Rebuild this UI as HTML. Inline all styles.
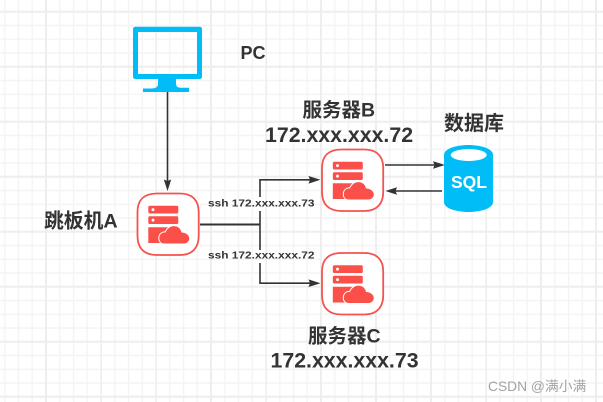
<!DOCTYPE html>
<html><head><meta charset="utf-8">
<style>
html,body{margin:0;padding:0;background:#fff;width:603px;height:402px;overflow:hidden}
svg{display:block}
text{font-family:"Liberation Sans","Noto Sans CJK SC",sans-serif;font-weight:bold;fill:#333}
</style></head>
<body>
<svg width="603" height="402" viewBox="0 0 603 402" xmlns="http://www.w3.org/2000/svg">
<defs>
<pattern id="g" x="3.75" y="-2.95" width="13.75" height="13.75" patternUnits="userSpaceOnUse">
<path d="M1 0V13.75M0 1H13.75" stroke="#f4f4f4" stroke-width="1.4" fill="none"/>
</pattern>
<pattern id="G" x="45" y="10.7" width="55" height="55" patternUnits="userSpaceOnUse">
<path d="M1 0V55M0 1H55" stroke="#eeeeee" stroke-width="1.9" fill="none"/>
</pattern>
<g id="srv">
<path d="M157 193.500H180C192 193.500 198.700 200 198.700 212V236C198.700 248 192 255 180 255H157C144 255 137.500 248 137.500 236V212C137.500 200 144 193.500 157 193.500Z" fill="#fff" stroke="#f4534e" stroke-width="1.8"/>
<rect x="148.300" y="205.700" width="30" height="7.800" rx="1.500" fill="#fb4f4a"/>
<rect x="148.300" y="216.200" width="30" height="7.800" rx="1.500" fill="#fb4f4a"/>
<circle cx="153" cy="209.600" r="1.500" fill="#fff"/>
<circle cx="153" cy="220.100" r="1.500" fill="#fff"/>
<path d="M148.300 227.300H172V243H148.300Z" fill="#fb4f4a"/>
<path d="M164.500 243.500C160 243.500 158.700 239.500 159.500 236.500C160.300 233.500 163 232 165.500 232.500C167.500 227.500 172 225 176.500 226.500C179.500 227.500 181 230 181.500 232.500C186 232.500 189.300 235.500 189.300 238.500C189.300 241.500 186.500 243.500 184 243.500Z" fill="#fb4f4a" stroke="#fff" stroke-width="2" paint-order="stroke"/>
</g>
</defs>
<rect width="603" height="402" fill="#fff"/>
<rect width="603" height="402" fill="url(#g)"/>
<rect width="603" height="402" fill="url(#G)"/>

<!-- PC monitor -->
<path fill-rule="evenodd" d="M135.500 26.700H199.500Q202 26.700 202 29.200V76.500Q202 79 199.500 79H176V84Q176 87.700 181 87.700H189V92H143V88.500H151Q158 88.500 158 84V79H135.500Q133 79 133 76.500V29.200Q133 26.700 135.500 26.700ZM138 32V74H197V32Z" fill="#00bdf8"/>

<!-- connectors -->
<g stroke="#333" stroke-width="1.600" fill="none">
<path d="M167.500 92V182"/>
<path d="M200 224.500H260.500" stroke-width="2"/>
<path d="M260 197V179.800H312"/>
<path d="M260 211V250M260 263V283.200H312"/>
<path d="M385 165H436"/>
<path d="M442 191H393"/>
</g>
<g fill="#333">
<path d="M167.500 191L163.800 179.500L167.500 181L171.200 179.500Z"/>
<path d="M320.500 179.800L308.500 176L310 179.800L308.500 183.600Z"/>
<path d="M320.500 283.200L308.500 279.400L310 283.200L308.500 287Z"/>
<path d="M445 165L433 161.200L434.500 165L433 168.800Z"/>
<path d="M385.500 191L397 187.200L395.500 191L397 194.800Z"/>
</g>

<!-- servers -->
<use href="#srv"/>
<use href="#srv" x="184.500" y="-44"/>
<use href="#srv" x="184.500" y="59.500"/>

<!-- database -->
<path d="M444 155C444 148 458 145 468.500 145C479 145 493 148 493 155V202C493 209 479 212 468.500 212C458 212 444 209 444 202Z" fill="#00bdf8"/>
<ellipse cx="468.700" cy="155" rx="18" ry="6" fill="#fff"/>
<text x="469" y="188" text-anchor="middle" font-size="17.500" style="fill:#fff">SQL</text>

<!-- labels -->
<text x="240.500" y="59" font-size="18">PC</text>
<text x="44" y="227.500" font-size="19.800">跳板机A</text>
<text x="302.500" y="116.500" font-size="19.500">服务器B</text>
<text x="265" y="142" font-size="21.300">172.xxx.xxx.72</text>
<text x="444" y="130" font-size="20">数据库</text>
<text x="308" y="342.500" font-size="19.500">服务器C</text>
<text x="270.500" y="367.500" font-size="21.300">172.xxx.xxx.73</text>
<text x="208" y="206.300" font-size="10.500" textLength="106.500" lengthAdjust="spacingAndGlyphs">ssh 172.xxx.xxx.73</text>
<text x="208" y="258.700" font-size="10.500" textLength="106.500" lengthAdjust="spacingAndGlyphs">ssh 172.xxx.xxx.72</text>
<text x="488" y="391" font-size="13.800" style="font-weight:normal;fill:#a3a3a3">CSDN @满小满</text>
</svg>
</body></html>
